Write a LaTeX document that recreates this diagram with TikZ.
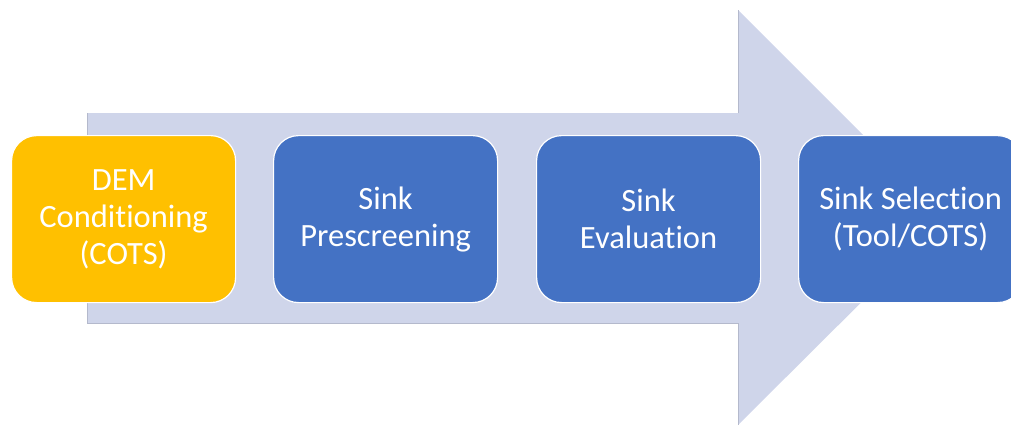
\documentclass[tikz,border=0pt]{standalone}
\usepackage{fontspec}
\setmainfont{Carlito}[RawFeature={-liga;-clig;-dlig}]
\definecolor{arrowfill}{HTML}{CFD5EA}
\definecolor{arrowedge}{HTML}{B4B9CC}
\definecolor{stepyellow}{HTML}{FFC000}
\definecolor{stepblue}{HTML}{4472C4}
\tikzset{
  stepbox/.style={draw=white, line width=1.2pt, rounded corners=25pt, minimum width=224pt, minimum height=167pt,
    inner sep=0pt, anchor=north west, text=white, align=center,
    font=\fontsize{32.5}{37}\selectfont},
}
\begin{document}
\begin{tikzpicture}[x=1pt,y=-1pt]
\useasboundingbox (0,0) rectangle (1011,426);
\clip (0,0) rectangle (1011,426);
\fill[arrowfill] (87,113) -- (738,113) -- (738,10) -- (946,218) -- (738,425) -- (738,323) -- (87,323) -- cycle;
\draw[arrowedge, line width=0.8pt] (87,113) -- (87,323) -- (738,323) -- (738,425);
\draw[arrowedge, line width=0.8pt] (738,113) -- (738,10);
\node[stepbox, fill=stepyellow] (s1) at (11,135) {DEM\\Conditioning\\(COTS)};
\node[stepbox, fill=stepblue] (s2) at (273,135) {Sink\\Prescreening};
\node[stepbox, fill=stepblue] (s3) at (536,135) {Sink\\Evaluation};
\node[stepbox, fill=stepblue] (s4) at (798,135) {Sink Selection\\(Tool/COTS)};
\end{tikzpicture}
\end{document}
